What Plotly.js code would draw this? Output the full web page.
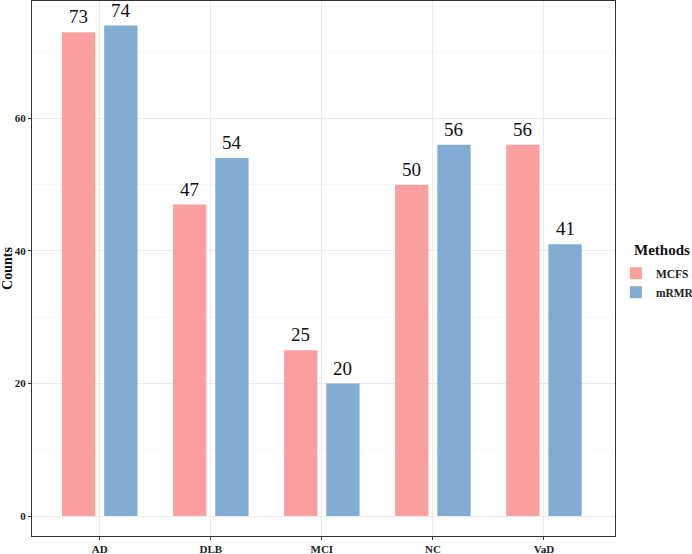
<!DOCTYPE html>
<html>
<head>
<meta charset="utf-8">
<script src="https://cdn.plot.ly/plotly-3.0.1.min.js"></script>
<style>
  html, body { margin: 0; padding: 0; background: #fff; }
  #chart { width: 692px; height: 554px; }
</style>
</head>
<body>
<div id="chart"></div>
<script>
// counts per diagnosis group
const groups = ["AD", "DLB", "MCI", "NC", "VaD"];
const mcfs = [73, 47, 25, 50, 56];
const mrmr = [74, 54, 20, 56, 41];

const pink = "#FBA09E";
const blue = "#82ACD2";
const serif = "Liberation Serif, Times New Roman, serif";

const data = [
  { type: "bar", name: "MCFS", x: groups, y: mcfs, marker: { color: pink }, hoverinfo: "y" },
  { type: "bar", name: "mRMR", x: groups, y: mrmr, marker: { color: blue }, hoverinfo: "y" }
];

// value labels above each bar (dodged by the same amount as the bars)
const dodge = 0.19;
const annotations = [];
groups.forEach((g, i) => {
  annotations.push({ x: i - dodge, y: mcfs[i], text: String(mcfs[i]), showarrow: false,
    yanchor: "bottom", yshift: 4, borderpad: 0, font: { family: serif, size: 19, color: "#111" } });
  annotations.push({ x: i + dodge, y: mrmr[i], text: String(mrmr[i]), showarrow: false,
    yanchor: "bottom", yshift: 4, borderpad: 0, font: { family: serif, size: 19, color: "#111" } });
});
// legend title drawn separately so the keys can sit closer to it
annotations.push({ xref: "paper", yref: "paper", x: 1.029, y: 0.535, xanchor: "left", yanchor: "middle",
  text: "<b>Methods</b>", showarrow: false, font: { family: serif, size: 15, color: "#111" } });

const layout = {
  width: 692, height: 554,
  margin: { l: 32, r: 77, t: 1, b: 18, autoexpand: false },
  paper_bgcolor: "#fff", plot_bgcolor: "#fff",
  barmode: "group", bargap: 0.24, bargroupgap: 0.21,
  font: { family: serif, color: "#222" },
  xaxis: {
    type: "category", range: [-0.61, 4.64],
    showgrid: true, gridcolor: "#EBEBEB", gridwidth: 1,
    showline: true, linecolor: "#333", linewidth: 1, mirror: true,
    ticks: "outside", ticklen: 3, tickcolor: "#333",
    tickfont: { family: serif, size: 11, weight: "bold", color: "#222" }
  },
  yaxis: {
    range: [-3.0, 77.7], tickvals: [0, 20, 40, 60],
    showgrid: true, gridcolor: "#EBEBEB", gridwidth: 1, zeroline: false,
    minor: { tickvals: [10, 30, 50, 70], showgrid: true, gridcolor: "#F3F3F3", gridwidth: 0.6, ticks: "" },
    showline: true, linecolor: "#333", linewidth: 1, mirror: true,
    ticks: "outside", ticklen: 3, tickcolor: "#333",
    tickfont: { family: serif, size: 11, weight: "bold", color: "#222" },
    title: { text: "Counts", standoff: 4, font: { family: serif, size: 14, weight: "bold", color: "#111" } }
  },
  legend: {
    xref: "container", yref: "container",
    x: 0.89, xanchor: "left", y: 0.533, yanchor: "top",
    font: { family: serif, size: 11.5, weight: "bold", color: "#222" },
    itemwidth: 30, tracegroupgap: 0
  },
  annotations: annotations,
  showlegend: true
};

Plotly.newPlot("chart", data, layout, { displayModeBar: false, staticPlot: true });
</script>
</body>
</html>
